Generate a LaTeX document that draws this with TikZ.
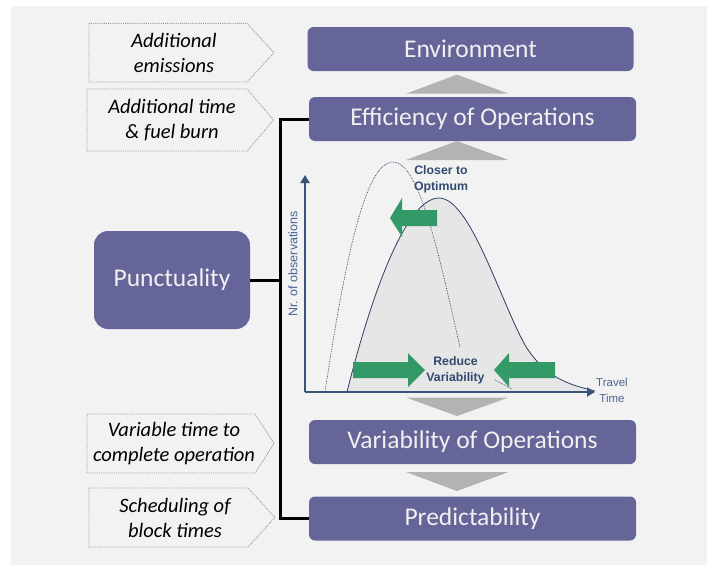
\documentclass[tikz,border=0pt]{standalone}
\usepackage{fontspec}
\setmainfont{Carlito}
\newfontfamily\chartfont{Liberation Sans}
\usetikzlibrary{arrows.meta}
\definecolor{bgc}{HTML}{F2F2F2}
\definecolor{boxc}{HTML}{65659A}
\definecolor{boxtext}{HTML}{F0F0F0}
\definecolor{tric}{HTML}{B3B3B3}
\definecolor{areac}{HTML}{E6E6E6}
\definecolor{greenc}{HTML}{339966}
\definecolor{axisc}{HTML}{3A5379}
\definecolor{curvec}{HTML}{2B3F63}
\definecolor{charttext}{HTML}{324A70}
\definecolor{ylabc}{HTML}{4B6490}
\definecolor{dotc}{HTML}{9A9A9A}
\tikzset{
  mainbox/.style={fill=boxc, rounded corners=6pt, text=boxtext, inner sep=0pt,
    minimum width=327pt, minimum height=44pt,
    font=\fontsize{25.5}{30}\selectfont},
  punctbox/.style={mainbox, rounded corners=14pt, minimum width=156pt, minimum height=98pt},
  notetext/.style={align=center, inner sep=0pt, font=\fontsize{20.5}{25}\selectfont\itshape},
  noteframe/.style={draw=dotc, line width=0.9pt, densely dotted},
  busline/.style={draw=black, line width=3pt},
  tri/.style={fill=tric},
  greenarrow/.style={fill=greenc},
  axisline/.style={draw=axisc, line width=1.8pt, -{Triangle[length=8pt,width=9pt]}},
  curveline/.style={draw=curvec, line width=0.8pt},
  dotcurve/.style={draw=curvec, line width=0.7pt, densely dotted},
  chartlabel/.style={align=center, inner sep=1pt, text=charttext,
    font=\chartfont\bfseries\fontsize{12.3}{16}\selectfont},
}
\begin{document}
\begin{tikzpicture}[x=1pt,y=-1pt]
\useasboundingbox (0,0) rectangle (707,565);
\fill[bgc] (11,6) rectangle (707,565);

% left notes (pentagon frames)
\draw[noteframe] (89,23.4) -- (247,23.4) -- (274,52.7) -- (247,82) -- (89,82) -- cycle;
\node[notetext] (n1) at (174,52.7) {Additional\\emissions};
\draw[noteframe] (87,89) -- (247,89) -- (273.6,120) -- (247,151) -- (87,151) -- cycle;
\node[notetext] (n2) at (172,120) {Additional time\\\& fuel burn};
\draw[noteframe] (87,414) -- (255,414) -- (274,443.5) -- (255,473) -- (87,473) -- cycle;
\node[notetext] (n3) at (174,443.5) {Variable time to\\complete operation};
\draw[noteframe] (89,488) -- (248,488) -- (275,517.5) -- (248,547) -- (89,547) -- cycle;
\node[notetext] (n4) at (175,517.5) {Scheduling of\\block times};

% main boxes
\node[mainbox, minimum width=326pt] (env) at (470.5,49) {Environment};
\node[mainbox] (eff) at (472.5,119) {Efficiency of Operations};
\node[mainbox] (var) at (472.5,442) {Variability of Operations};
\node[mainbox] (pred) at (472.5,518.5) {Predictability};
\node[punctbox] (punct) at (172,280) {Punctuality};

% bus connector
\coordinate (busx) at (280,280);
\draw[busline] (eff.west) -- (eff.west -| busx) -- (pred.west -| busx) -- (pred.west);
\draw[busline] (punct.east) -- (busx);

% grey triangles
\fill[tri] (406,93.7) -- (508.6,93.7) -- (457,74.6) -- cycle;
\fill[tri] (406,160) -- (508.6,160) -- (457,141) -- cycle;
\fill[tri] (406,397.5) -- (508.6,397.5) -- (457,416) -- cycle;
\fill[tri] (406,472) -- (508.6,472) -- (457,491) -- cycle;

% chart
\coordinate (O) at (305,392);
\coordinate (ytop) at (305,175);
\coordinate (xend) at (595,392);
\fill[areac] (347,392) .. controls (370,300) and (405,198) .. (439,198)
  .. controls (470,198) and (500,300) .. (525,345)
  .. controls (545,378) and (570,385) .. (595,391) -- cycle;
\draw[curveline] (347,392) .. controls (370,300) and (405,198) .. (439,198)
  .. controls (470,198) and (500,300) .. (525,345)
  .. controls (545,378) and (570,385) .. (595,391);
\draw[dotcurve] (325,392) .. controls (345,260) and (365,162) .. (393,162)
  .. controls (420,162) and (440,260) .. (460,347);
\draw[dotcurve] (495,380) -- (512,389);
\draw[axisline] (O) -- (ytop);
\draw[axisline] (O) -- (xend);

\node[rotate=90, inner sep=0pt, text=ylabc, font=\chartfont\fontsize{12.5}{15}\selectfont] (ylab) at (293,264) {Nr. of observations};
\node[align=center, inner sep=0pt, text=ylabc, font=\chartfont\fontsize{11.5}{16}\selectfont] (xlab) at (612,390) {Travel\\Time};
\node[chartlabel] (closer) at (441,179.5) {Closer to\\Optimum};
\node[chartlabel] (reduce) at (455.5,370) {Reduce\\Variability};

% green block arrows
\fill[greenarrow] (390,218) -- (402,198) -- (402,210) -- (437,210) -- (437,226) -- (402,226) -- (402,237) -- cycle;
\fill[greenarrow] (425,370) -- (408,353) -- (408,362) -- (353,362) -- (353,378) -- (408,378) -- (408,387) -- cycle;
\fill[greenarrow] (494,370) -- (509,353) -- (509,362) -- (555,362) -- (555,378) -- (509,378) -- (509,387) -- cycle;
\end{tikzpicture}
\end{document}
